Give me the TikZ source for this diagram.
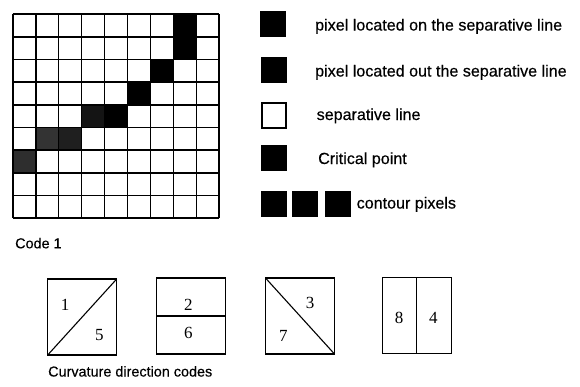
\documentclass[tikz,border=0pt]{standalone}
\usepackage{fontspec}
\setmainfont{Liberation Sans}[FakeBold=0.4]
\newfontfamily\numfont{Liberation Serif}
\begin{document}
\begin{tikzpicture}[x=1pt,y=-1pt,
  legsq/.style={draw=black,fill=black,line width=0.8pt,minimum width=25pt,minimum height=25pt,inner sep=0pt,outer sep=0pt},
  legtxt/.style={anchor=base west,inner sep=0pt,font=\fontsize{16.1}{18}\selectfont},
  captxt/.style={anchor=base west,inner sep=0pt,font=\fontsize{14.4}{17}\selectfont},
  codebox/.style={draw=black,line width=1.1pt,minimum width=69pt,minimum height=76pt,inner sep=0pt,outer sep=0pt},
  num/.style={inner sep=0pt,font=\numfont\fontsize{17}{20}\selectfont},
  gridline/.style={line width=1.7pt}]
\useasboundingbox (0,0) rectangle (580,386);
% grid
\def\gx{12.7}\def\gy{14}\def\cw{22.96}\def\ch{22.7}
\newcommand{\cellfill}[3]{\fill[#3] ({\gx+#1*\cw},{\gy+#2*\ch}) rectangle ({\gx+(#1+1)*\cw},{\gy+(#2+1)*\ch});}
\cellfill{7}{0}{black}
\cellfill{7}{1}{black}
\cellfill{6}{2}{black}
\cellfill{5}{3}{black}
\cellfill{4}{4}{black}
\cellfill{3}{4}{black!92}
\cellfill{2}{5}{black!88}
\cellfill{1}{5}{black!80}
\cellfill{0}{6}{black!82}
\foreach \i in {0,...,9} {
  \draw[gridline] ({\gx+\i*\cw},\gy) -- ({\gx+\i*\cw},{\gy+9*\ch});
  \draw[gridline] (\gx,{\gy+\i*\ch}) -- ({\gx+9*\cw},{\gy+\i*\ch});
}
% legend
\node[legsq] (s1) at (273.3,24) {};
\node[legsq] (s2) at (273.5,69.7) {};
\node[legsq,fill=white,line width=1.4pt,minimum width=24pt,minimum height=25pt] (s3) at (274,115.3) {};
\node[legsq] (s4) at (273.8,158.3) {};
\node[legsq] (s5a) at (274,203.8) {};
\node[legsq] (s5b) at (305,203.8) {};
\node[legsq] (s5c) at (338,203.8) {};
\node[legtxt] (t1) at (315,30.5) {pixel located on the separative line};
\node[legtxt] (t2) at (315,76.5) {pixel located out the separative line};
\node[legtxt] (t3) at (316.5,120) {separative line};
\node[legtxt] (t4) at (318,164) {Critical point};
\node[legtxt] (t5) at (356.5,208.5) {contour pixels};
% captions
\node[captxt] (c1) at (15,248.3) {Code 1};
\node[captxt] (c2) at (48,376.5) {Curvature direction codes};
% code boxes
\node[codebox] (b1) at (82.2,317) {};
\node[codebox] (b2) at (190.8,316) {};
\node[codebox] (b3) at (300,316) {};
\node[codebox] (b4) at (416.6,315.5) {};
\draw[line width=1.1pt] (b1.south west) -- (b1.north east);
\draw[line width=1.1pt] (b2.west) -- (b2.east);
\draw[line width=1.1pt] (b3.north west) -- (b3.south east);
\draw[line width=1.1pt] (b4.north) -- (b4.south);
\node[num] (n1) at (65,305) {1};
\node[num] (n5) at (99.3,335) {5};
\node[num] (n2) at (188.3,304.5) {2};
\node[num] (n6) at (188.3,333.3) {6};
\node[num] (n3) at (310,303.3) {3};
\node[num] (n7) at (283.3,336) {7};
\node[num] (n8) at (399,318.3) {8};
\node[num] (n4) at (433.3,318.3) {4};
\end{tikzpicture}
\end{document}
